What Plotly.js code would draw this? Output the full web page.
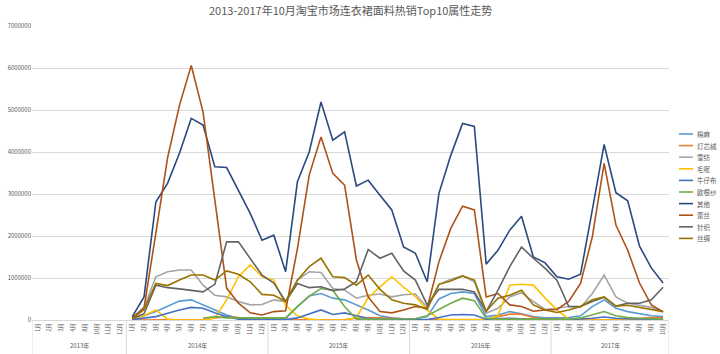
<!DOCTYPE html>
<html>
<head>
<meta charset="utf-8">
<script src="https://cdn.plot.ly/plotly-3.0.1.min.js"></script>
<style>
html,body{margin:0;padding:0;background:#fff;}
#chart{width:720px;height:354px;}
</style>
</head>
<body>
<div id="chart"></div>
<script>
var chartTitle = "2013-2017年10月淘宝市场连衣裙面料热销Top10属性走势";
var years = ["2013年", "2014年", "2015年", "2016年", "2017年"];
var monthsByYear = [
  ["1月","2月","3月","4月","8月","10月","11月","12月"],
  ["1月","2月","3月","4月","5月","6月","7月","8月","9月","10月","11月","12月"],
  ["1月","2月","3月","4月","5月","6月","7月","8月","9月","10月","11月","12月"],
  ["1月","2月","3月","4月","5月","6月","7月","8月","9月","10月","11月","12月"],
  ["1月","2月","3月","4月","5月","6月","7月","8月","9月","10月"]
];
var seriesNames = ["棉麻","灯芯绒","雪纺","毛呢","牛仔布","欧根纱","其他","蕾丝","针织","丝绸"];
var seriesColors = ["#5B9BD5","#ED7D31","#A5A5A5","#FFC000","#4472C4","#70AD47","#2A4A7F","#AD5218","#636363","#997300"];

var s1 = [null,null,null,null,null,null,null,null,
  20000,100000,200000,330000,450000,480000,360000,240000,120000,40000,20000,20000,
  20000,30000,320000,570000,630000,520000,480000,360000,240000,100000,50000,30000,
  30000,80000,500000,630000,670000,630000,80000,120000,200000,150000,80000,50000,
  50000,60000,100000,320000,480000,280000,200000,150000,100000,80000];
var s2 = [null,null,null,null,null,null,null,null,
  0,0,0,0,0,0,10000,50000,80000,60000,30000,20000,
  10000,5000,5000,5000,5000,5000,10000,40000,60000,50000,30000,20000,
  10000,5000,5000,5000,5000,5000,10000,80000,140000,140000,60000,30000,
  20000,10000,5000,5000,5000,5000,10000,40000,60000,50000];
var s3 = [null,null,null,null,null,null,null,null,
  50000,300000,1030000,1150000,1190000,1190000,830000,590000,550000,440000,360000,370000,
  480000,440000,950000,1150000,1130000,750000,710000,520000,590000,620000,550000,600000,
  620000,300000,850000,970000,1050000,910000,160000,280000,550000,650000,440000,250000,
  280000,320000,300000,630000,1070000,550000,400000,350000,300000,200000];
var s4 = [null,null,null,null,null,null,null,null,
  10000,100000,240000,20000,0,0,0,50000,480000,1030000,1310000,1030000,
  950000,350000,100000,20000,0,0,0,60000,530000,790000,1030000,780000,
  560000,240000,20000,10000,10000,10000,10000,100000,830000,850000,830000,520000,
  240000,20000,0,0,0,0,0,0,0,0];
var s5 = [null,null,null,null,null,null,null,null,
  10000,50000,80000,160000,240000,300000,280000,170000,80000,20000,10000,10000,
  10000,10000,50000,150000,240000,130000,170000,100000,40000,20000,10000,10000,
  10000,10000,60000,120000,130000,120000,20000,30000,40000,30000,20000,10000,
  10000,10000,20000,40000,70000,40000,30000,20000,10000,10000];
var s6 = [null,null,null,null,null,null,null,null,
  null,null,null,null,null,null,40000,80000,50000,50000,50000,50000,
  50000,50000,320000,570000,750000,710000,320000,20000,20000,20000,20000,20000,
  30000,100000,240000,400000,520000,460000,40000,20000,20000,20000,20000,20000,
  20000,20000,50000,120000,200000,100000,60000,40000,30000,20000];
var s7 = [null,null,null,null,null,null,null,null,
  80000,550000,2810000,3260000,3970000,4800000,4640000,3650000,3630000,3090000,2540000,1900000,
  2020000,1150000,3290000,4000000,5190000,4280000,4480000,3190000,3330000,2970000,2620000,1740000,
  1590000,910000,3020000,3920000,4680000,4610000,1330000,1660000,2140000,2470000,1500000,1360000,
  1030000,970000,1090000,2620000,4180000,3030000,2840000,1760000,1240000,880000];
var s8 = [null,null,null,null,null,null,null,null,
  50000,290000,2070000,3870000,5110000,6060000,4950000,2850000,760000,400000,170000,120000,
  200000,220000,1700000,3450000,4360000,3490000,3210000,1430000,550000,200000,170000,240000,
  320000,280000,1390000,2180000,2710000,2620000,550000,630000,360000,320000,210000,240000,
  250000,440000,870000,1980000,3730000,2260000,1660000,880000,360000,190000];
var s9 = [null,null,null,null,null,null,null,null,
  30000,150000,830000,770000,740000,710000,670000,850000,1860000,1860000,1470000,1070000,
  880000,440000,870000,770000,790000,700000,740000,910000,1680000,1470000,1590000,1170000,
  950000,360000,730000,730000,730000,670000,200000,710000,1270000,1740000,1470000,1230000,
  950000,320000,320000,440000,540000,330000,400000,400000,480000,780000];
var s10 = [null,null,null,null,null,null,null,null,
  30000,250000,870000,820000,950000,1070000,1070000,950000,1170000,1090000,910000,610000,
  590000,440000,950000,1270000,1470000,1030000,1010000,830000,1070000,730000,480000,400000,
  360000,250000,850000,930000,1050000,950000,210000,520000,590000,710000,360000,240000,
  180000,240000,320000,480000,550000,330000,350000,300000,250000,200000];
var seriesValues = [s1,s2,s3,s4,s5,s6,s7,s8,s9,s10];

var yTickVals = [0,1000000,2000000,3000000,4000000,5000000,6000000,7000000];

// build category keys (year+month) and their month tick labels
var catKeys = [], catLabels = [], yearBounds = [];
years.forEach(function(y, i){
  var start = catKeys.length;
  monthsByYear[i].forEach(function(m){ catKeys.push(y + m); catLabels.push(m); });
  yearBounds.push([start, catKeys.length]);
});

var traces = seriesValues.map(function(vals, i){
  return {
    type: 'scatter', mode: 'lines',
    x: catKeys, y: vals,
    name: seriesNames[i],
    line: {color: seriesColors[i], width: 1.6},
    connectgaps: false,
    hoverinfo: 'skip'
  };
});

var annotations = [{
  text: chartTitle, xref: 'paper', yref: 'paper', x: 0.5, y: 1,
  xanchor: 'center', yanchor: 'bottom', yshift: 6, showarrow: false,
  font: {size: 11, color: '#595959', family: 'Noto Sans CJK SC'}
}];
var shapes = [];
var plotTop = 26, plotH = 294;
// year group labels and dividers
yearBounds.forEach(function(b, i){
  annotations.push({text: years[i], xref: 'x', yref: 'paper',
    x: (b[0] + b[1] - 1) / 2, y: (320 - 345) / plotH,
    xanchor: 'center', yanchor: 'middle', showarrow: false,
    font: {size: 6, color: '#595959', family: 'Noto Sans CJK SC'}});
  shapes.push({type: 'line', xref: 'x', yref: 'paper',
    x0: b[0] - 0.5, x1: b[0] - 0.5, y0: 0, y1: (320 - 354) / plotH,
    line: {color: '#D9D9D9', width: 1}});
  if (i === yearBounds.length - 1) {
    shapes.push({type: 'line', xref: 'x', yref: 'paper',
      x0: b[1] - 0.5, x1: b[1] - 0.5, y0: 0, y1: (320 - 354) / plotH,
      line: {color: '#D9D9D9', width: 1}});
  }
});
// legend
var legTop = 134, legStep = 11.6;
seriesNames.forEach(function(n, i){
  var yp = 1 - (legTop + i*legStep - plotTop)/plotH;
  shapes.push({type:'line', xref:'paper', yref:'paper',
    x0: (679-32)/637, x1: (693-32)/637, y0: yp, y1: yp,
    line: {color: seriesColors[i], width: 1.6}});
  annotations.push({text: n, xref:'paper', yref:'paper', x: (695-32)/637, y: yp,
    xanchor:'left', yanchor:'middle', showarrow:false,
    font:{size:6.5, color:'#595959', family:'Noto Sans CJK SC'}});
});

var layout = {
  width: 720, height: 354,
  margin: {l: 32, r: 51, t: 26, b: 34},
  paper_bgcolor: '#fff', plot_bgcolor: '#fff',
  showlegend: false,
  font: {family: 'Noto Sans CJK SC', color: '#595959', size: 6},
  xaxis: {
    type: 'category',
    categoryorder: 'array', categoryarray: catKeys,
    tickmode: 'array', tickvals: catKeys, ticktext: catLabels,
    tickangle: -90,
    tickfont: {size: 5.5, color: '#595959'},
    showline: true, linecolor: '#D9D9D9', linewidth: 1,
    showgrid: false, ticks: '',
    range: [-0.5, catKeys.length - 0.5],
    fixedrange: true
  },
  yaxis: {
    range: [0, 7000000],
    tickvals: yTickVals, tickformat: 'd',
    tickfont: {size: 6, color: '#595959'},
    gridcolor: '#D9D9D9', gridwidth: 1,
    zeroline: false, showline: false, ticks: '',
    ticklen: 6, tickcolor: 'rgba(0,0,0,0)'
  },
  annotations: annotations,
  shapes: shapes
};

Plotly.newPlot('chart', traces, layout, {staticPlot: true});
</script>
</body>
</html>
